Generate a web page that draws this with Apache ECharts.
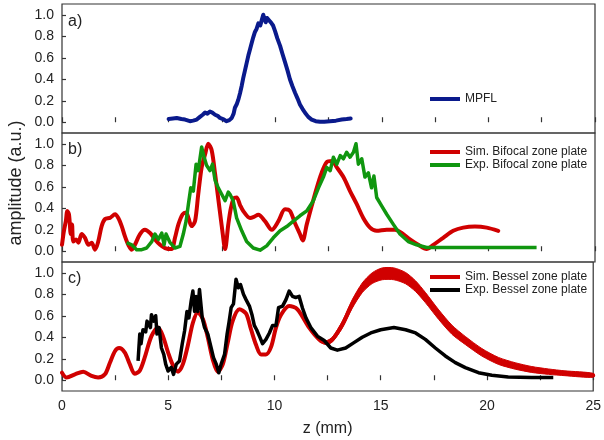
<!DOCTYPE html>
<html><head><meta charset="utf-8">
<script src="https://cdn.jsdelivr.net/npm/echarts@6/dist/echarts.min.js"></script>
<style>html,body{margin:0;padding:0;background:#fff}#c{width:604px;height:440px}</style>
</head><body><div id="c"></div>
<script>
// ---- data ----
const xTicks = [0, 5, 10, 15, 20, 25];
const yTicks = [0, 0.2, 0.4, 0.6, 0.8, 1.0];

const mpflZ = [5.0,5.2,5.38,5.6,5.77,6.0,6.15,6.32,6.47,6.6,6.71,6.82,6.94,7.05,7.18,7.3,7.41,7.55,7.72,7.85,7.96,8.05,8.11,8.2,8.27,8.35,8.43,8.5,8.58,8.66,8.74,8.82,8.9,8.97,9.05,9.13,9.21,9.3,9.37,9.44,9.5,9.56,9.62,9.68,9.75,9.83,9.9,9.99,10.1,10.23,10.35,10.46,10.58,10.69,10.8,10.93,11.05,11.16,11.28,11.4,11.55,11.71,11.9,12.1,12.3,12.57,12.85,13.12,13.35,13.54];
const mpflA = [0.03,0.035,0.04,0.03,0.025,0.01,0.015,0.025,0.05,0.07,0.09,0.08,0.10,0.09,0.07,0.06,0.04,0.03,0.01,0.02,0.04,0.08,0.135,0.17,0.21,0.27,0.34,0.41,0.48,0.55,0.62,0.68,0.74,0.79,0.84,0.87,0.92,0.90,0.95,1.0,0.96,0.93,0.97,0.96,0.94,0.92,0.90,0.85,0.78,0.71,0.63,0.56,0.48,0.40,0.34,0.275,0.22,0.166,0.125,0.088,0.05,0.025,0.01,0.005,0.005,0.01,0.015,0.025,0.03,0.035];

const simBifocalZ = [0,0.09,0.18,0.25,0.33,0.41,0.47,0.53,0.66,0.77,0.92,1.08,1.24,1.39,1.55,1.70,1.86,2.02,2.25,2.49,2.64,2.80,2.95,3.11,3.27,3.42,3.66,3.89,4.13,4.36,4.60,4.83,5.14,5.30,5.46,5.66,5.82,5.93,6.08,6.24,6.39,6.55,6.71,6.86,7.02,7.18,7.38,7.54,7.65,7.80,7.92,8.05,8.19,8.35,8.50,8.82,9.0,9.21,9.52,9.84,10.15,10.46,10.69,10.93,11.16,11.29,11.48,11.71,11.95,12.18,12.42,12.66,12.89,13.20,13.51,13.82,14.13,14.45,14.76,15.23,15.62,15.93,16.32,16.71,17.1,17.42,17.88,18.35,18.82,19.37,19.92,20.46];
const simBifocalA = [0.06,0.19,0.28,0.375,0.34,0.16,0.25,0.09,0.11,0.08,0.16,0.125,0.06,0.08,0.015,0.09,0.234,0.30,0.31,0.344,0.31,0.234,0.14,0.06,0.015,0.06,0.16,0.20,0.17,0.11,0.06,0.03,0.02,0.125,0.25,0.344,0.36,0.31,0.234,0.28,0.53,0.78,0.90,1.0,0.94,0.72,0.41,0.16,0.02,0.25,0.40,0.49,0.50,0.43,0.375,0.31,0.32,0.34,0.28,0.20,0.28,0.39,0.375,0.26,0.16,0.10,0.25,0.42,0.59,0.73,0.83,0.84,0.78,0.69,0.56,0.44,0.31,0.22,0.19,0.20,0.20,0.17,0.11,0.06,0.02,0.06,0.125,0.19,0.22,0.23,0.22,0.19];

const expBifocalZ = [3.03,3.27,3.5,3.74,3.97,4.21,4.36,4.52,4.68,4.79,4.88,5.07,5.30,5.53,5.69,5.82,5.93,6.04,6.16,6.29,6.39,6.55,6.66,6.78,6.94,7.06,7.18,7.33,7.49,7.65,7.80,7.88,8.03,8.19,8.43,8.66,8.97,9.29,9.60,9.91,10.23,10.54,10.85,11.16,11.48,11.79,12.03,12.26,12.42,12.58,12.73,12.89,13.05,13.2,13.35,13.51,13.67,13.79,13.9,14.06,14.21,14.37,14.52,14.63,14.76,15.0,15.23,15.54,15.85,16.24,16.63,17.1,17.57,18.5,19.5,20.5,21.5,22.26];
const expBifocalA = [0.08,0.06,0.015,0.015,0.03,0.09,0.16,0.11,0.17,0.06,0.16,0.08,0.03,0.045,0.16,0.28,0.44,0.59,0.56,0.81,0.75,0.97,0.88,0.80,0.75,0.81,0.66,0.59,0.53,0.47,0.55,0.53,0.47,0.31,0.19,0.09,0.03,0.01,0.05,0.125,0.19,0.23,0.28,0.33,0.375,0.47,0.59,0.69,0.78,0.75,0.875,0.81,0.89,0.86,0.92,0.875,0.92,1.0,0.81,0.86,0.69,0.73,0.59,0.70,0.50,0.42,0.344,0.25,0.16,0.09,0.06,0.035,0.035,0.035,0.035,0.035,0.035,0.035];

const simBesselZ = [0,0.22,0.61,1.0,1.39,1.70,2.02,2.25,2.49,2.69,2.95,3.19,3.42,3.66,3.89,4.21,4.52,4.75,4.99,5.22,5.46,5.69,5.93,6.16,6.39,6.63,6.86,7.10,7.33,7.57,7.80,8.03,8.35,8.66,8.90,9.13,9.37,9.6,9.84,10.07,10.31,10.69,11.08,11.63,12.10,12.42,12.73,13.2,13.66,14.13,14.60,15.07,15.62,16.17,16.64,17.1,17.73,18.35,18.98,19.76,20.54,21.33,22.11,22.89,23.67,25];
const simBesselA = [0.07,0.025,0.055,0.08,0.04,0.025,0.055,0.16,0.27,0.30,0.26,0.15,0.06,0.09,0.21,0.41,0.49,0.41,0.26,0.14,0.08,0.15,0.33,0.535,0.63,0.57,0.40,0.19,0.08,0.15,0.35,0.55,0.66,0.62,0.47,0.33,0.24,0.24,0.31,0.49,0.61,0.69,0.66,0.49,0.38,0.35,0.38,0.52,0.71,0.86,0.95,0.99,0.99,0.95,0.875,0.77,0.61,0.47,0.37,0.26,0.18,0.133,0.10,0.08,0.065,0.046];
// visible thickness of the fast-oscillating simulated trace, from z = 12.10 onward
const simBesselSpreadStart = 44;
const simBesselSpread = [0.03,0.035,0.045,0.065,0.08,0.09,0.10,0.11,0.11,0.105,0.10,0.095,0.09,0.085,0.075,0.07,0.065,0.06,0.055,0.05,0.045,0.037];

const expBesselZ = [3.58,3.66,3.72,3.81,3.94,4.0,4.16,4.21,4.32,4.41,4.47,4.57,4.68,4.79,4.88,4.99,5.14,5.25,5.38,5.53,5.66,5.77,5.88,5.97,6.08,6.16,6.24,6.31,6.39,6.47,6.60,6.71,6.86,7.02,7.13,7.26,7.38,7.49,7.65,7.77,7.86,7.96,8.07,8.19,8.30,8.40,8.54,8.66,8.82,8.94,9.05,9.16,9.29,9.44,9.6,9.76,9.91,10.07,10.19,10.38,10.54,10.69,10.85,11.0,11.16,11.32,11.48,11.71,12.02,12.34,12.65,12.96,13.35,13.74,14.13,14.53,15.0,15.62,16.17,16.64,17.1,17.57,18.04,18.51,18.98,19.6,20.23,21.0,22.1,23.12];
const expBesselA = [0.18,0.43,0.34,0.47,0.45,0.55,0.49,0.61,0.55,0.60,0.43,0.49,0.30,0.24,0.15,0.086,0.12,0.055,0.15,0.18,0.34,0.46,0.64,0.58,0.74,0.83,0.64,0.78,0.64,0.845,0.58,0.49,0.43,0.30,0.21,0.15,0.07,0.15,0.24,0.43,0.54,0.675,0.71,0.94,0.86,0.89,0.80,0.75,0.69,0.61,0.51,0.47,0.41,0.34,0.38,0.44,0.51,0.51,0.675,0.69,0.75,0.83,0.78,0.77,0.78,0.67,0.58,0.49,0.41,0.37,0.30,0.28,0.30,0.35,0.40,0.44,0.47,0.49,0.47,0.44,0.38,0.30,0.226,0.164,0.118,0.07,0.046,0.03,0.025,0.025];

// ---- build ----
const zip = (x, y) => x.map((v, i) => [v, y[i]]);
const FONT = '"Liberation Sans", Arial, Helvetica, sans-serif';
const TXT = '#222';
const RED = '#d00000', GREEN = '#10960f', BLUE = '#0a1a8c', BLACK = '#000';

const bandUpper = [], bandLower = [];
simBesselSpread.forEach((s, k) => {
  const i = simBesselSpreadStart + k;
  bandUpper.push([simBesselZ[i], simBesselA[i] + s / 2]);
  bandLower.push([simBesselZ[i], simBesselA[i] - s / 2]);
});

const tops = [4, 133, 262];
const grids = tops.map(t => ({left: 62, width: 533, top: t, height: 129, show: true,
  borderColor: '#333', borderWidth: 1.2, backgroundColor: 'transparent'}));

const xAxes = tops.map((t, i) => ({
  gridIndex: i, type: 'value', min: 0, max: 25, interval: 2.5,
  axisLine: {show: false}, splitLine: {show: false},
  axisTick: {show: true, inside: true, length: 5, lineStyle: {color: '#333', width: 1.2}},
  axisLabel: {show: i === 2, margin: 8, color: TXT, fontSize: 14, fontFamily: FONT,
    customValues: xTicks, formatter: v => String(v)},
  name: i === 2 ? 'z (mm)' : '', nameLocation: 'middle', nameGap: 30,
  nameTextStyle: {color: TXT, fontSize: 16, fontFamily: FONT}
}));
const yAxes = tops.map((t, i) => ({
  gridIndex: i, type: 'value', min: -0.1, max: 1.1,
  axisLine: {show: false}, splitLine: {show: false},
  axisTick: {show: true, inside: true, length: 4, customValues: yTicks, lineStyle: {color: '#333', width: 1.2}},
  axisLabel: {margin: 8, color: TXT, fontSize: 14, fontFamily: FONT, customValues: yTicks,
    formatter: v => v.toFixed(1)}
}));

const line = (name, data, color, idx, extra) => Object.assign({
  name, type: 'line', data, xAxisIndex: idx, yAxisIndex: idx, showSymbol: false, symbol: 'none',
  lineStyle: {color, width: 4, cap: 'round', join: 'round'}, itemStyle: {color}, silent: true,
  animation: false
}, extra || {});

const series = [
  line('MPFL', zip(mpflZ, mpflA), BLUE, 0),
  line('Sim. Bifocal zone plate', zip(simBifocalZ, simBifocalA), RED, 1, {smooth: 0.3}),
  line('Exp. Bifocal zone plate', zip(expBifocalZ, expBifocalA), GREEN, 1, {lineStyle: {color: GREEN, width: 3.5, join: 'round'}}),
  {type: 'custom', coordinateSystem: 'cartesian2d', xAxisIndex: 2, yAxisIndex: 2, silent: true, animation: false,
    data: [[bandUpper[0][0], bandUpper[0][1]]],
    renderItem: (params, api) => {
      const pts = bandUpper.map(p => api.coord(p)).concat(bandLower.slice().reverse().map(p => api.coord(p)));
      return {type: 'polygon', shape: {points: pts, smooth: 0.25}, style: {fill: RED, stroke: RED, lineWidth: 1}};
    }},
  line('Sim. Bessel zone plate', zip(simBesselZ, simBesselA), RED, 2, {smooth: 0.3}),
  line('Exp. Bessel zone plate', zip(expBesselZ, expBesselA), BLACK, 2, {lineStyle: {color: BLACK, width: 3.5, join: 'round'}})
];

const legendBase = {orient: 'vertical', left: 425, itemWidth: 30, itemHeight: 4, itemGap: 1, icon: 'rect',
  textStyle: {color: TXT, fontSize: 12, fontFamily: FONT}, selectedMode: false};
const legends = [
  Object.assign({}, legendBase, {top: 88, data: ['MPFL']}),
  Object.assign({}, legendBase, {top: 141, data: ['Sim. Bifocal zone plate', 'Exp. Bifocal zone plate']}),
  Object.assign({}, legendBase, {top: 266, data: ['Sim. Bessel zone plate', 'Exp. Bessel zone plate']})
];

const panelLabel = (txt, top) => ({type: 'text', left: 68, top,
  style: {text: txt, fill: TXT, font: '16px ' + FONT}});

const chart = echarts.init(document.getElementById('c'), null, {renderer: 'canvas'});
chart.setOption({
  animation: false,
  backgroundColor: '#fff',
  grid: grids, xAxis: xAxes, yAxis: yAxes, series, legend: legends,
  graphic: [
    panelLabel('a)', 14), panelLabel('b)', 142), panelLabel('c)', 271),
    {type: 'text', x: 16, y: 183, rotation: Math.PI / 2,
      style: {text: 'amplitude (a.u.)', fill: TXT, font: '18px ' + FONT, align: 'center', verticalAlign: 'middle'}}
  ]
});
</script>
</body></html>
